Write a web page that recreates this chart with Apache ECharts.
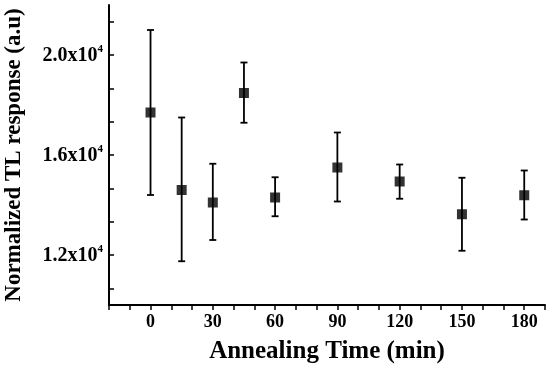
<!DOCTYPE html>
<html><head><meta charset="utf-8">
<script src="https://cdn.jsdelivr.net/npm/echarts@6/dist/echarts.min.js"></script>
<style>html,body{margin:0;padding:0;background:#fff}#c{width:550px;height:366px}</style>
</head><body><div id="c"></div>
<script>
const times = [0, 15, 30, 45, 60, 90, 120, 150, 180];
const response = [17700, 14600, 14100, 18480, 14300, 15500, 14940, 13630, 14390];
const upper = [21000, 17500, 15650, 19700, 15110, 16900, 15620, 15090, 15380];
const lower = [14400, 11750, 12600, 17290, 13550, 14140, 14250, 12170, 13420];
const yLabelValues = [12000, 16000, 20000];
const yTickValues = [10666.67, 12000, 13333.33, 14666.67, 16000, 17333.33, 18666.67, 20000, 21333.33];
const xLabelValues = [0, 30, 60, 90, 120, 150, 180];

const font = '"Liberation Serif", "Times New Roman", serif';
const chart = echarts.init(document.getElementById('c'));
chart.setOption({
  animation: false,
  grid: {left: 109, top: 5, right: 5, bottom: 61, containLabel: false, outerBoundsMode: 'none'},
  xAxis: {
    type: 'value', min: -20, max: 190, interval: 10,
    name: 'Annealing Time (min)', nameLocation: 'middle', nameGap: 34,
    nameTextStyle: {fontFamily: font, fontWeight: 'bold', fontSize: 25, color: '#000'},
    axisLine: {onZero: false, lineStyle: {color: '#000', width: 2}},
    axisTick: {show: true, inside: false, length: 5, lineStyle: {color: '#000', width: 1.5}},
    axisLabel: {
      customValues: xLabelValues,
      fontFamily: font, fontWeight: 'bold', fontSize: 18, color: '#000', margin: 8
    },
    splitLine: {show: false}
  },
  yAxis: {
    type: 'value', min: 10000, max: 22000,
    name: 'Normalized TL response (a.u)', nameLocation: 'middle', nameGap: 83,
    nameTextStyle: {fontFamily: font, fontWeight: 'bold', fontSize: 23, color: '#000'},
    axisLine: {show: true, onZero: false, lineStyle: {color: '#000', width: 2}},
    axisTick: {show: true, inside: true, length: 5, customValues: yTickValues, lineStyle: {color: '#000', width: 1.5}},
    axisLabel: {
      customValues: yLabelValues,
      margin: 6,
      formatter: v => '{b|' + (v / 10000).toFixed(1) + 'x10}{s|4}',
      rich: {
        b: {fontFamily: font, fontWeight: 'bold', fontSize: 20, color: '#000', verticalAlign: 'bottom'},
        s: {fontFamily: font, fontWeight: 'bold', fontSize: 11, color: '#000', verticalAlign: 'top', padding: [0, 0, 11, 0]}
      }
    },
    splitLine: {show: false}
  },
  series: [
    {
      type: 'custom',
      data: times.map((t, i) => [t, lower[i], upper[i]]),
      renderItem: (params, api) => {
        const x = api.value(0);
        const lo = api.coord([x, api.value(1)]);
        const hi = api.coord([x, api.value(2)]);
        const hw = 3.5;
        const st = {stroke: '#000', lineWidth: 1.8};
        return {type: 'group', children: [
          {type: 'line', shape: {x1: lo[0], y1: lo[1], x2: hi[0], y2: hi[1]}, style: st},
          {type: 'line', shape: {x1: lo[0] - hw, y1: lo[1], x2: lo[0] + hw, y2: lo[1]}, style: st},
          {type: 'line', shape: {x1: hi[0] - hw, y1: hi[1], x2: hi[0] + hw, y2: hi[1]}, style: st}
        ]};
      },
      z: 2
    },
    {
      type: 'scatter',
      data: times.map((t, i) => [t, response[i]]),
      symbol: 'rect', symbolSize: 10,
      itemStyle: {color: '#000'},
      z: 3
    }
  ]
});
</script></body></html>
